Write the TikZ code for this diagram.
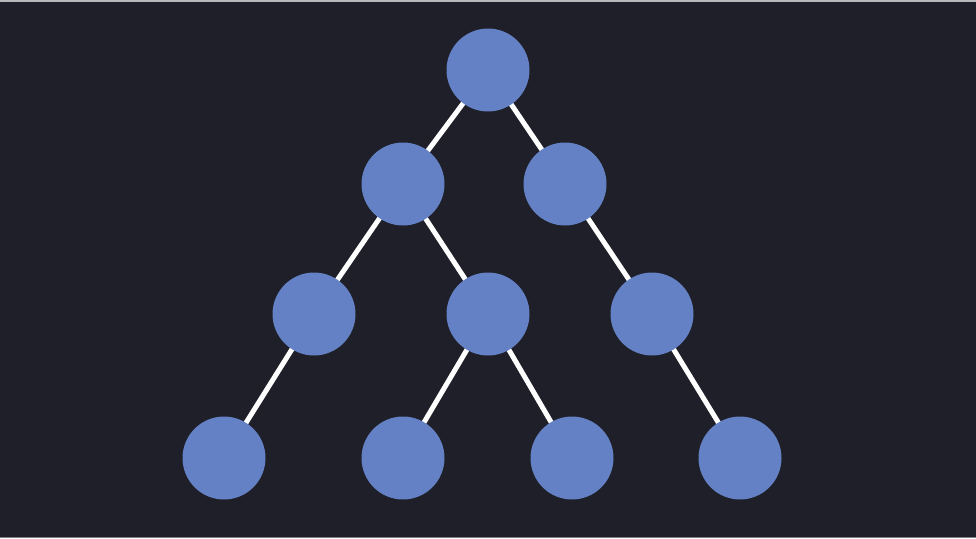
\documentclass[tikz,border=0pt]{standalone}
\definecolor{bg}{HTML}{1E1F28}
\definecolor{nodeblue}{HTML}{6481C5}
\definecolor{rim}{HTML}{B8B8BC}
\tikzset{
  tn/.style={circle, fill=nodeblue, draw=none, minimum size=83pt, inner sep=0pt},
  edge/.style={white, line width=5pt}
}
\begin{document}
\begin{tikzpicture}[x=1pt,y=-1pt]
\fill[bg] (0,0) rectangle (976,538);
\useasboundingbox (0,0) rectangle (976,538);
\draw[rim, line width=1.5pt] (0,0.75) -- (976,0.75);
\draw[rim!60!bg, line width=1.5pt] (0,537.25) -- (976,537.25);
\coordinate (p0) at (488,70);
\coordinate (p1) at (403,184);
\coordinate (p2) at (565,184);
\coordinate (p3) at (314,314);
\coordinate (p4) at (488,314);
\coordinate (p5) at (652,314);
\coordinate (p6) at (224,458);
\coordinate (p7) at (403,458);
\coordinate (p8) at (572,458);
\coordinate (p9) at (740,458);
\draw[edge] (p0) -- (p1);
\draw[edge] (p0) -- (p2);
\draw[edge] (p1) -- (p3);
\draw[edge] (p1) -- (p4);
\draw[edge] (p2) -- (p5);
\draw[edge] (p3) -- (p6);
\draw[edge] (p4) -- (p7);
\draw[edge] (p4) -- (p8);
\draw[edge] (p5) -- (p9);
\foreach \i in {0,...,9} { \node[tn] (n\i) at (p\i) {}; }
\end{tikzpicture}
\end{document}
